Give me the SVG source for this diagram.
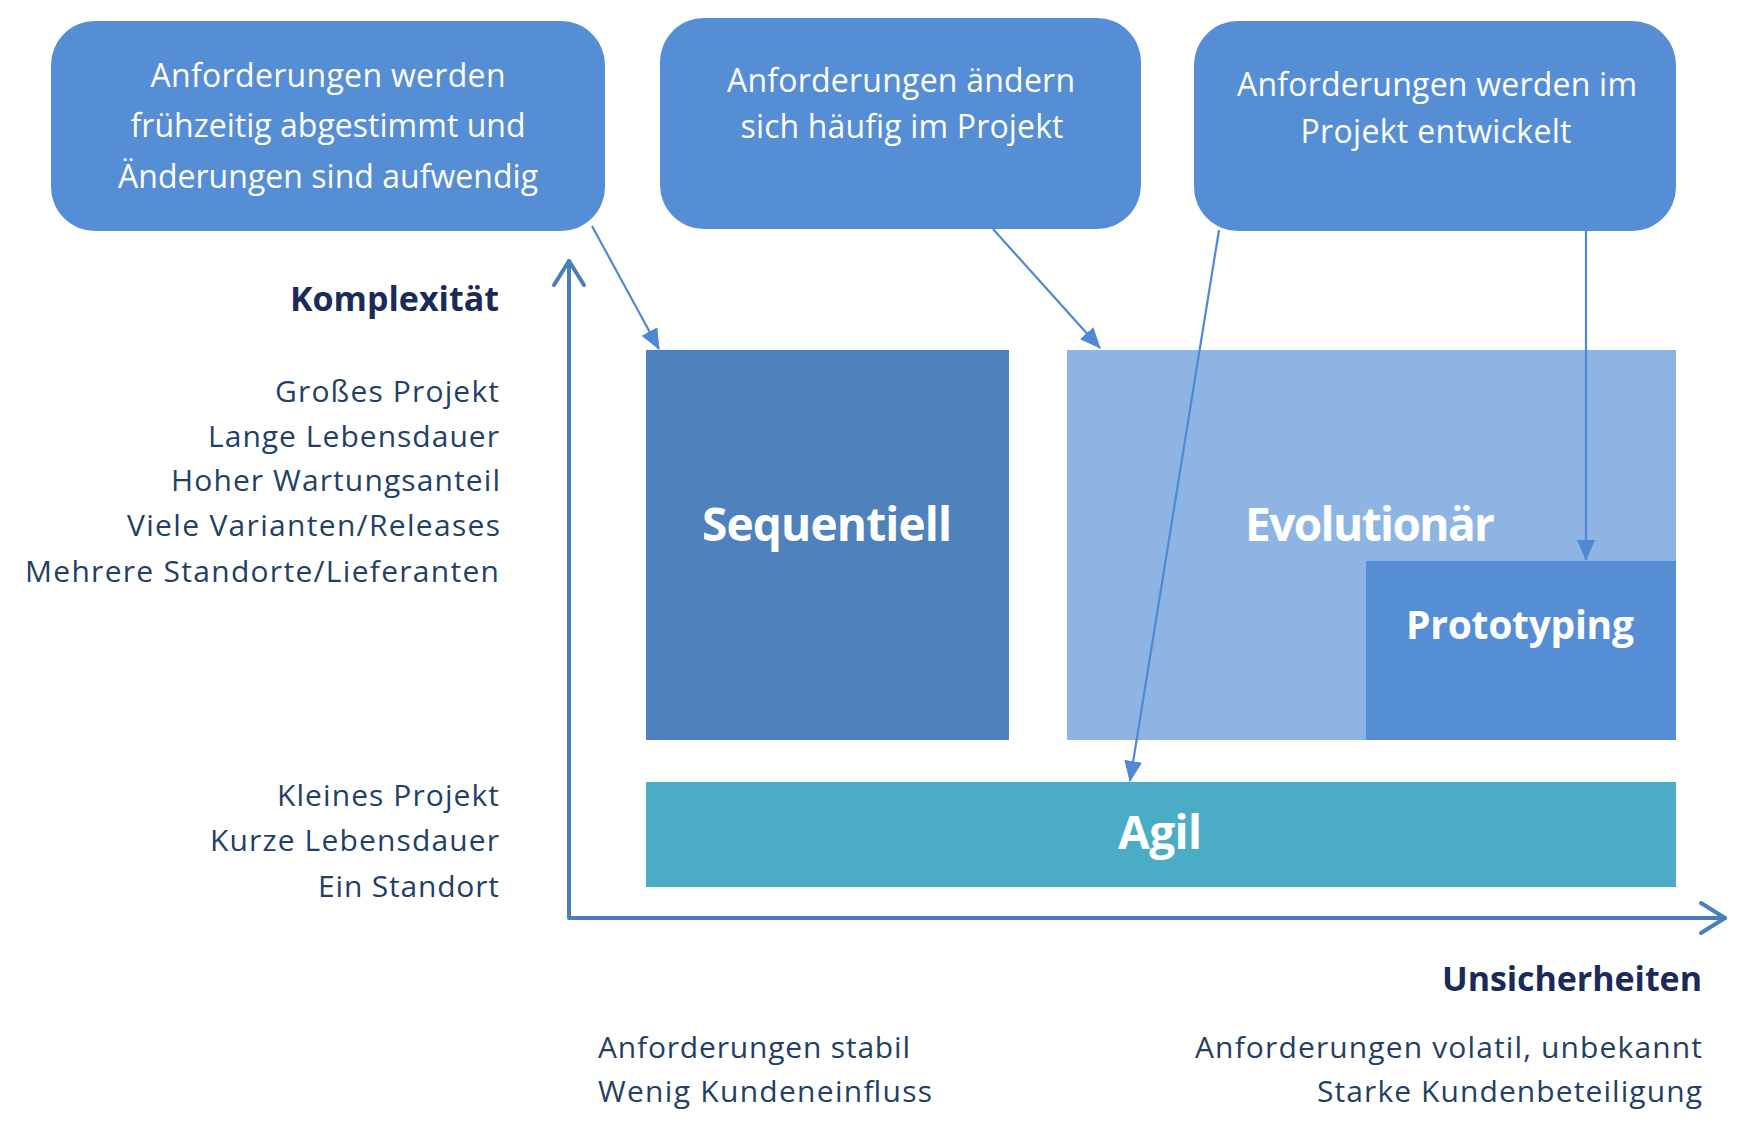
<svg xmlns="http://www.w3.org/2000/svg" width="1749" height="1134" viewBox="0 0 1749 1134">
  <style>
    .note { fill: #558ED5; }
    .note-text { font-family: "Open Sans", "Liberation Sans", sans-serif; font-size: 32px; fill: #FFFFFF; text-anchor: middle; }
    .block-text { font-family: "Open Sans", "Liberation Sans", sans-serif; font-weight: bold; fill: #FFFFFF; text-anchor: middle; }
    .label { font-family: "Open Sans", "Liberation Sans", sans-serif; font-size: 30px; fill: #243F66; }
    .axis-title { font-family: "Open Sans", "Liberation Sans", sans-serif; font-size: 34px; font-weight: bold; fill: #1A2B5A; }
    .right { text-anchor: end; }
    .axis { fill: none; stroke: #4A7EBB; stroke-width: 4; stroke-linecap: round; stroke-linejoin: round; }
    .link { fill: none; stroke: #4F88D3; stroke-width: 2.2; }
  </style>
  <defs>
    <marker id="tip" markerUnits="userSpaceOnUse" markerWidth="22" markerHeight="20" viewBox="0 0 22 20" refX="20" refY="10" orient="auto">
      <path d="M0,1 L21,10 L0,19 z" fill="#4F88D3"/>
    </marker>
  </defs>

  <rect width="1749" height="1134" fill="#FFFFFF"/>

  <!-- requirement notes -->
  <g id="note-early">
    <rect class="note" x="51" y="21" width="554" height="210" rx="44" ry="44"/>
    <text class="note-text" x="328" y="87" textLength="355" lengthAdjust="spacing">Anforderungen werden</text>
    <text class="note-text" x="328" y="137" textLength="395" lengthAdjust="spacing">frühzeitig abgestimmt und</text>
    <text class="note-text" x="328" y="188" textLength="420" lengthAdjust="spacing">Änderungen sind aufwendig</text>
  </g>
  <g id="note-change">
    <rect class="note" x="660" y="18" width="481" height="211" rx="44" ry="44"/>
    <text class="note-text" x="901" y="92" textLength="348" lengthAdjust="spacing">Anforderungen ändern</text>
    <text class="note-text" x="902" y="138" textLength="323" lengthAdjust="spacing">sich häufig im Projekt</text>
  </g>
  <g id="note-develop">
    <rect class="note" x="1194" y="21" width="482" height="210" rx="44" ry="44"/>
    <text class="note-text" x="1437" y="96" textLength="400" lengthAdjust="spacing">Anforderungen werden im</text>
    <text class="note-text" x="1436" y="143" textLength="271" lengthAdjust="spacing">Projekt entwickelt</text>
  </g>

  <!-- process model blocks -->
  <g id="node-sequentiell">
    <rect x="646" y="350" width="363" height="390" fill="#4F81BD"/>
    <text class="block-text" x="827" y="541" font-size="46" textLength="250" lengthAdjust="spacing">Sequentiell</text>
  </g>
  <g id="node-evolutionaer">
    <rect x="1067" y="350" width="609" height="390" fill="#8EB4E3"/>
    <text class="block-text" x="1370" y="541" font-size="46" textLength="250" lengthAdjust="spacing">Evolutionär</text>
  </g>
  <g id="node-prototyping">
    <rect x="1366" y="561" width="310" height="179" fill="#558ED5"/>
    <text class="block-text" x="1520" y="639" font-size="39" textLength="228" lengthAdjust="spacing">Prototyping</text>
  </g>
  <g id="node-agil">
    <rect x="646" y="782" width="1030" height="105" fill="#4BACC6"/>
    <text class="block-text" x="1160" y="849" font-size="46" textLength="84" lengthAdjust="spacing">Agil</text>
  </g>

  <!-- axes -->
  <g id="axes">
    <path class="axis" d="M569,261 L569,918 L1725,918"/>
    <path class="axis" d="M554,285 L569,261 L584,285"/>
    <path class="axis" d="M1701,903 L1725,918 L1701,933"/>
  </g>

  <!-- axis captions -->
  <g id="labels-complexity">
    <text class="axis-title right" x="499" y="311" textLength="209" lengthAdjust="spacing">Komplexität</text>
    <text class="label right" x="499" y="402" textLength="224" lengthAdjust="spacing">Großes Projekt</text>
    <text class="label right" x="499" y="447" textLength="291" lengthAdjust="spacing">Lange Lebensdauer</text>
    <text class="label right" x="500" y="491" textLength="329" lengthAdjust="spacing">Hoher Wartungsanteil</text>
    <text class="label right" x="500" y="536" textLength="373" lengthAdjust="spacing">Viele Varianten/Releases</text>
    <text class="label right" x="499" y="582" textLength="474" lengthAdjust="spacing">Mehrere Standorte/Lieferanten</text>
    <text class="label right" x="499" y="806" textLength="222" lengthAdjust="spacing">Kleines Projekt</text>
    <text class="label right" x="499" y="851" textLength="289" lengthAdjust="spacing">Kurze Lebensdauer</text>
    <text class="label right" x="499" y="897" textLength="181" lengthAdjust="spacing">Ein Standort</text>
  </g>
  <g id="labels-uncertainty">
    <text class="axis-title right" x="1702" y="991" textLength="260" lengthAdjust="spacing">Unsicherheiten</text>
    <text class="label" x="598" y="1058" textLength="312" lengthAdjust="spacing">Anforderungen stabil</text>
    <text class="label" x="598" y="1102" textLength="334" lengthAdjust="spacing">Wenig Kundeneinfluss</text>
    <text class="label right" x="1702" y="1058" textLength="507" lengthAdjust="spacing">Anforderungen volatil, unbekannt</text>
    <text class="label right" x="1702" y="1102" textLength="385" lengthAdjust="spacing">Starke Kundenbeteiligung</text>
  </g>

  <!-- connectors from notes to models -->
  <g id="connectors">
    <line class="link" x1="592" y1="226" x2="659" y2="349" marker-end="url(#tip)"/>
    <line class="link" x1="993" y1="229" x2="1100" y2="348" marker-end="url(#tip)"/>
    <line class="link" x1="1219" y1="230" x2="1130" y2="781" marker-end="url(#tip)"/>
    <line class="link" x1="1586" y1="230" x2="1586" y2="560" marker-end="url(#tip)"/>
  </g>
</svg>
